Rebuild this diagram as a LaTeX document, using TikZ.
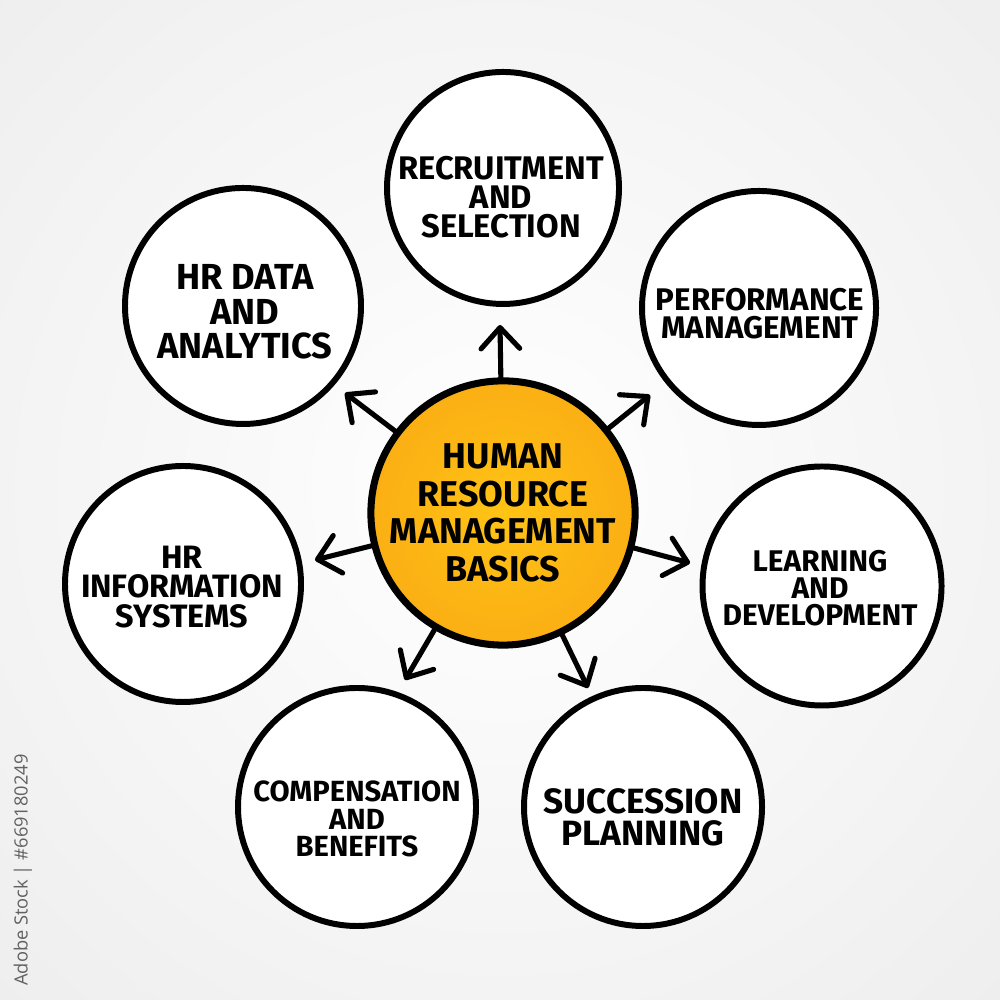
\documentclass[tikz,border=0pt]{standalone}
\usepackage{fontspec}
\setmainfont{Fira Sans}
\newfontfamily\wmfont{Open Sans}
\usetikzlibrary{arrows.meta}
\definecolor{hubC}{RGB}{255,196,20}
\definecolor{hubM}{RGB}{252,180,20}
\definecolor{hubE}{RGB}{245,156,16}
\pgfdeclareradialshading{hubshade}{\pgfpoint{0bp}{0bp}}{color(0bp)=(hubC); color(18bp)=(hubM); color(50bp)=(hubE)}
\begin{document}
\begin{tikzpicture}[x=1cm,y=1cm,
  topic/.style={circle,draw=black,line width=1.7pt,fill=white,minimum size=#1,inner sep=0pt},
  hub/.style={circle,draw=black,line width=2pt,shading=hubshade,minimum size=2.6cm,inner sep=0pt,align=center,
    font=\fontsize{10.2}{10.7}\selectfont\bfseries},
  lbl/.style={align=center,inner sep=0pt},
  arr/.style={line width=1.45pt,line cap=round,line join=round,
    -{Straight Barb[length=6pt,width=11pt,round]}},
]
\useasboundingbox (0,0) rectangle (10,10);
\begin{scope}
  \clip (0,0) rectangle (10,10);
  \shade[inner color=white,outer color=black!13] (5,5.1) circle (14);
\end{scope}

% outer circles
\node[topic=2.32cm] (rec) at (5.03,8.12) {};
\node[topic=2.34cm] (perf) at (7.59,6.92) {};
\node[topic=2.39cm] (learn) at (8.22,4.14) {};
\node[topic=2.38cm] (succ) at (6.43,1.93) {};
\node[topic=2.38cm] (comp) at (3.57,1.93) {};
\node[topic=2.36cm] (info) at (1.83,4.16) {};
\node[topic=2.36cm] (data) at (2.43,6.94) {};

% labels
\node[lbl,font=\fontsize{9.3}{8.3}\selectfont\bfseries] (trec) at (5.01,8.03) {RECRUITMENT\\AND\\SELECTION};
\node[lbl,font=\fontsize{8.9}{8}\selectfont\bfseries] (tperf) at (7.60,6.86) {PERFORMANCE\\MANAGEMENT};
\node[lbl,font=\fontsize{8.5}{7.7}\selectfont\bfseries] (tlearn) at (8.20,4.12) {LEARNING\\AND\\DEVELOPMENT};
\node[lbl,font=\fontsize{10}{9.1}\selectfont\bfseries] (tsucc) at (6.43,1.83) {SUCCESSION\\PLANNING};
\node[lbl,font=\fontsize{8.3}{7.8}\selectfont\bfseries] (tcomp) at (3.57,1.81) {COMPENSATION\\AND\\BENEFITS};
\node[lbl,font=\fontsize{9.2}{8.4}\selectfont\bfseries] (tinfo) at (1.82,4.13) {HR\\INFORMATION\\SYSTEMS};
\node[lbl,font=\fontsize{10.3}{9.8}\selectfont\bfseries] (tdata) at (2.45,6.88) {HR DATA\\AND\\ANALYTICS};

% hub
\node[hub] (c) at (5.03,4.87) {HUMAN\\RESOURCE\\MANAGEMENT\\BASICS};

% arrow tips
\coordinate (a1) at (5.00,6.75);
\coordinate (a2) at (6.50,6.05);
\coordinate (a3) at (6.90,4.37);
\coordinate (a4) at (5.88,3.12);
\coordinate (a5) at (4.05,3.20);
\coordinate (a6) at (3.15,4.40);
\coordinate (a7) at (3.45,6.07);
\foreach \t in {a1,a2,a3,a4,a5,a6,a7}{\draw[arr] (c) -- (\t);}

% stock caption
\node[rotate=90,inner sep=0pt,text=black!62,font=\wmfont\fontsize{5.2}{6}\selectfont] (wm) at (0.23,1.30) {Adobe Stock | \#669180249};
\end{tikzpicture}
\end{document}
